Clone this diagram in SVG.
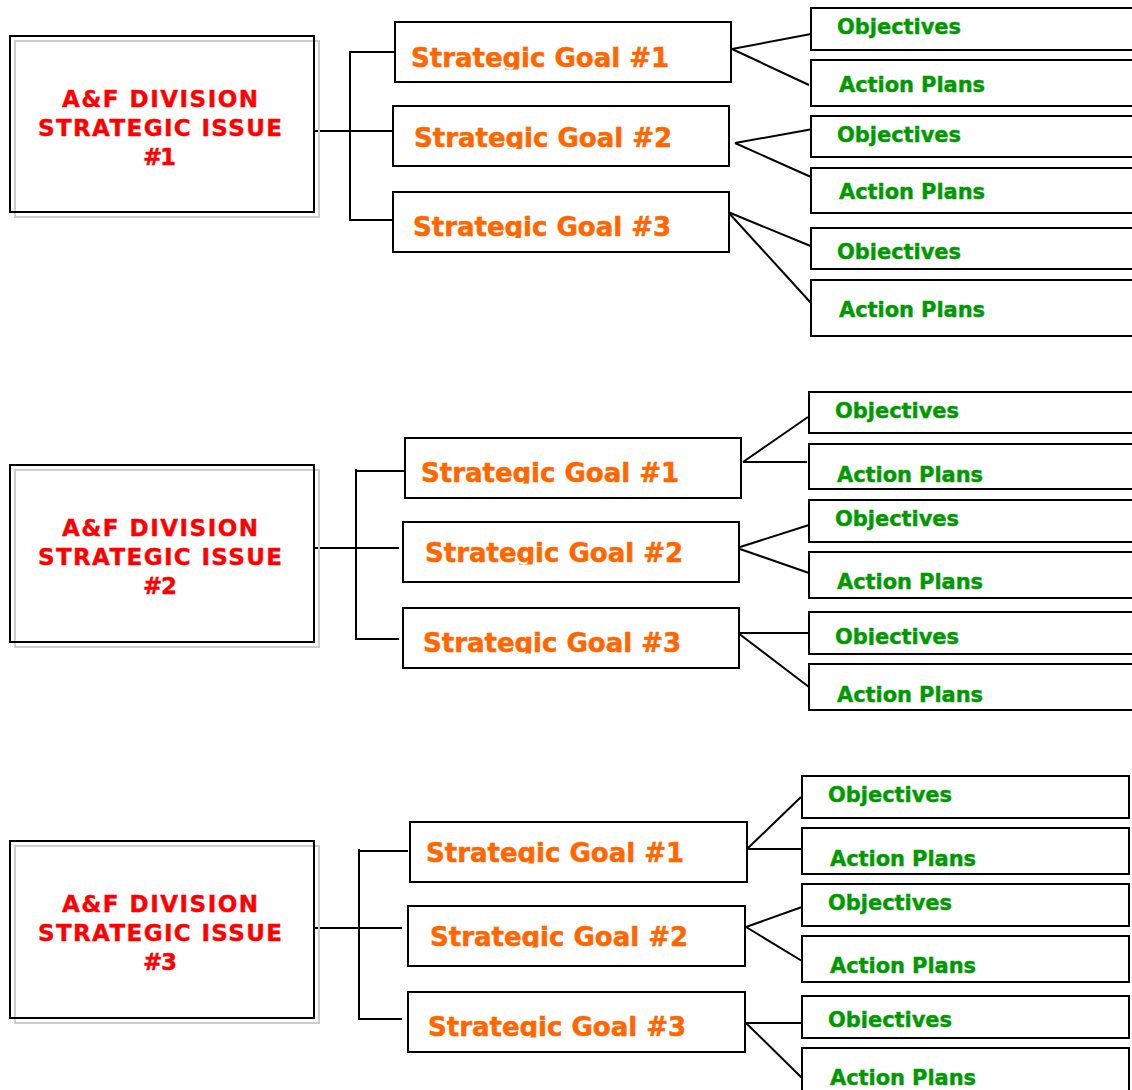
<svg xmlns="http://www.w3.org/2000/svg" width="1132" height="1090" viewBox="0 0 1132 1090">
<style>
.box{fill:#fff;stroke:#000;stroke-width:2}
.shadow{fill:none;stroke:#cccccc;stroke-width:2}
.issue{font-family:"DejaVu Sans",Verdana,sans-serif;font-weight:bold;font-size:23px;fill:#ff0000;stroke:#ff0000;stroke-width:0.4}
.goal{font-family:"DejaVu Sans",Verdana,sans-serif;font-weight:bold;font-size:26px;fill:#ff6600;stroke:#ff6600;stroke-width:0.5}
.sub{font-family:"DejaVu Sans",Verdana,sans-serif;font-weight:bold;font-size:21px;fill:#009900;stroke:#009900;stroke-width:0.4}
.conn line{stroke:#000;stroke-width:2;fill:none}
</style>
<defs>
<clipPath id="c11"><rect x="395" y="22" width="337" height="47.5"/></clipPath>
<clipPath id="c12"><rect x="393" y="106" width="337" height="43"/></clipPath>
<clipPath id="c13"><rect x="393" y="192" width="337" height="46"/></clipPath>
<clipPath id="c21"><rect x="405" y="438" width="337" height="45.5"/></clipPath>
<clipPath id="c22"><rect x="403" y="522" width="337" height="42.5"/></clipPath>
<clipPath id="c23"><rect x="403" y="608" width="337" height="45.5"/></clipPath>
<clipPath id="c31"><rect x="410" y="822" width="337" height="41.5"/></clipPath>
<clipPath id="c32"><rect x="408" y="906" width="337" height="41.5"/></clipPath>
<clipPath id="c33"><rect x="408" y="992" width="337" height="45.5"/></clipPath>
<clipPath id="o13"><rect x="811" y="228" width="330" height="32"/></clipPath>
<clipPath id="o23"><rect x="809" y="612" width="330" height="33"/></clipPath>
<clipPath id="o33"><rect x="802" y="996" width="330" height="32"/></clipPath>
</defs>

<g id="connectors" class="conn">
<line x1="314" y1="131" x2="395" y2="131"/>
<line x1="350" y1="51" x2="350" y2="221"/>
<line x1="350" y1="52" x2="397" y2="52"/>
<line x1="349" y1="220" x2="393" y2="220"/>
<line x1="732" y1="49" x2="811" y2="34"/>
<line x1="732" y1="49" x2="809" y2="85"/>
<line x1="735" y1="143" x2="813" y2="129"/>
<line x1="735" y1="143" x2="811" y2="177"/>
<line x1="728" y1="212" x2="813" y2="247"/>
<line x1="728" y1="212" x2="811" y2="303"/>

<line x1="313" y1="548" x2="399" y2="548"/>
<line x1="356" y1="469" x2="356" y2="640"/>
<line x1="356" y1="471" x2="405" y2="471"/>
<line x1="355" y1="639" x2="399" y2="639"/>
<line x1="743" y1="462" x2="808" y2="417"/>
<line x1="743" y1="462" x2="807" y2="462"/>
<line x1="737" y1="548" x2="809" y2="525"/>
<line x1="737" y1="548" x2="809" y2="573"/>
<line x1="738" y1="633" x2="811" y2="633"/>
<line x1="738" y1="633" x2="809" y2="687"/>

<line x1="314" y1="928" x2="402" y2="928"/>
<line x1="359" y1="849" x2="359" y2="1020"/>
<line x1="359" y1="851" x2="408" y2="851"/>
<line x1="358" y1="1019" x2="402" y2="1019"/>
<line x1="747" y1="849" x2="801" y2="797"/>
<line x1="747" y1="849" x2="802" y2="849"/>
<line x1="746" y1="927" x2="802" y2="907"/>
<line x1="746" y1="927" x2="802" y2="961"/>
<line x1="746" y1="1023" x2="802" y2="1023"/>
<line x1="746" y1="1023" x2="802" y2="1078"/>
</g>

<g id="issue1">
<rect class="shadow" x="15" y="41" width="304" height="176"/>
<rect class="box" x="10" y="36" width="304" height="176" fill-opacity="0"/>
<text class="issue" x="62" y="107" textLength="196" lengthAdjust="spacing">A&amp;F DIVISION</text>
<text class="issue" x="38" y="136" textLength="244" lengthAdjust="spacing">STRATEGIC ISSUE</text>
<text class="issue" x="143" y="165" textLength="33" lengthAdjust="spacing">#1</text>
</g>
<g id="issue2">
<rect class="shadow" x="15" y="470" width="304" height="177"/>
<rect class="box" x="10" y="465" width="304" height="177" fill-opacity="0"/>
<text class="issue" x="62" y="536" textLength="196" lengthAdjust="spacing">A&amp;F DIVISION</text>
<text class="issue" x="38" y="565" textLength="244" lengthAdjust="spacing">STRATEGIC ISSUE</text>
<text class="issue" x="143" y="594" textLength="34" lengthAdjust="spacing">#2</text>
</g>
<g id="issue3">
<rect class="shadow" x="15" y="846" width="304" height="177"/>
<rect class="box" x="10" y="841" width="304" height="177" fill-opacity="0"/>
<text class="issue" x="62" y="912" textLength="196" lengthAdjust="spacing">A&amp;F DIVISION</text>
<text class="issue" x="38" y="941" textLength="244" lengthAdjust="spacing">STRATEGIC ISSUE</text>
<text class="issue" x="143" y="970" textLength="34" lengthAdjust="spacing">#3</text>
</g>

<g id="goal1-1"><rect class="box" x="395" y="22" width="336" height="60"/><text class="goal" x="411" y="67" textLength="258" lengthAdjust="spacing" clip-path="url(#c11)">Strategic Goal #1</text></g>
<g id="goal1-2"><rect class="box" x="393" y="106" width="336" height="60"/><text class="goal" x="414" y="147" textLength="258" lengthAdjust="spacing" clip-path="url(#c12)">Strategic Goal #2</text></g>
<g id="goal1-3"><rect class="box" x="393" y="192" width="336" height="60"/><text class="goal" x="413" y="236" textLength="258" lengthAdjust="spacing" clip-path="url(#c13)">Strategic Goal #3</text></g>

<g id="goal2-1"><rect class="box" x="405" y="438" width="336" height="60"/><text class="goal" x="421" y="482" textLength="258" lengthAdjust="spacing" clip-path="url(#c21)">Strategic Goal #1</text></g>
<g id="goal2-2"><rect class="box" x="403" y="522" width="336" height="60"/><text class="goal" x="425" y="562" textLength="258" lengthAdjust="spacing" clip-path="url(#c22)">Strategic Goal #2</text></g>
<g id="goal2-3"><rect class="box" x="403" y="608" width="336" height="60"/><text class="goal" x="423" y="652" textLength="258" lengthAdjust="spacing" clip-path="url(#c23)">Strategic Goal #3</text></g>

<g id="goal3-1"><rect class="box" x="410" y="822" width="337" height="60"/><text class="goal" x="426" y="862" textLength="258" lengthAdjust="spacing" clip-path="url(#c31)">Strategic Goal #1</text></g>
<g id="goal3-2"><rect class="box" x="408" y="906" width="337" height="60"/><text class="goal" x="430" y="946" textLength="258" lengthAdjust="spacing" clip-path="url(#c32)">Strategic Goal #2</text></g>
<g id="goal3-3"><rect class="box" x="408" y="992" width="337" height="60"/><text class="goal" x="428" y="1036" textLength="258" lengthAdjust="spacing" clip-path="url(#c33)">Strategic Goal #3</text></g>

<g id="obj1-1"><rect class="box" x="811" y="8" width="330" height="42"/><text class="sub" x="837" y="34" textLength="124" lengthAdjust="spacing">Objectives</text></g>
<g id="ap1-1"><rect class="box" x="811" y="60" width="330" height="46"/><text class="sub" x="839" y="92" textLength="146" lengthAdjust="spacing">Action Plans</text></g>
<g id="obj1-2"><rect class="box" x="811" y="116" width="330" height="41"/><text class="sub" x="837" y="142" textLength="124" lengthAdjust="spacing">Objectives</text></g>
<g id="ap1-2"><rect class="box" x="811" y="168" width="330" height="45"/><text class="sub" x="839" y="199" textLength="146" lengthAdjust="spacing">Action Plans</text></g>
<g id="obj1-3"><rect class="box" x="811" y="228" width="330" height="41"/><text class="sub" x="837" y="259" textLength="124" lengthAdjust="spacing" clip-path="url(#o13)">Objectives</text></g>
<g id="ap1-3"><rect class="box" x="811" y="280" width="330" height="56"/><text class="sub" x="839" y="317" textLength="146" lengthAdjust="spacing">Action Plans</text></g>

<g id="obj2-1"><rect class="box" x="809" y="392" width="330" height="41"/><text class="sub" x="835" y="418" textLength="124" lengthAdjust="spacing">Objectives</text></g>
<g id="ap2-1"><rect class="box" x="809" y="444" width="330" height="45"/><text class="sub" x="837" y="482" textLength="146" lengthAdjust="spacing">Action Plans</text></g>
<g id="obj2-2"><rect class="box" x="809" y="500" width="330" height="42"/><text class="sub" x="835" y="526" textLength="124" lengthAdjust="spacing">Objectives</text></g>
<g id="ap2-2"><rect class="box" x="809" y="552" width="330" height="46"/><text class="sub" x="837" y="589" textLength="146" lengthAdjust="spacing">Action Plans</text></g>
<g id="obj2-3"><rect class="box" x="809" y="612" width="330" height="42"/><text class="sub" x="835" y="644" textLength="124" lengthAdjust="spacing" clip-path="url(#o23)">Objectives</text></g>
<g id="ap2-3"><rect class="box" x="809" y="664" width="330" height="46"/><text class="sub" x="837" y="702" textLength="146" lengthAdjust="spacing">Action Plans</text></g>

<g id="obj3-1"><rect class="box" x="802" y="776" width="327" height="42"/><text class="sub" x="828" y="802" textLength="124" lengthAdjust="spacing">Objectives</text></g>
<g id="ap3-1"><rect class="box" x="802" y="828" width="327" height="46"/><text class="sub" x="830" y="866" textLength="146" lengthAdjust="spacing">Action Plans</text></g>
<g id="obj3-2"><rect class="box" x="802" y="884" width="327" height="42"/><text class="sub" x="828" y="910" textLength="124" lengthAdjust="spacing">Objectives</text></g>
<g id="ap3-2"><rect class="box" x="802" y="936" width="327" height="46"/><text class="sub" x="830" y="973" textLength="146" lengthAdjust="spacing">Action Plans</text></g>
<g id="obj3-3"><rect class="box" x="802" y="996" width="327" height="42"/><text class="sub" x="828" y="1027" textLength="124" lengthAdjust="spacing" clip-path="url(#o33)">Objectives</text></g>
<g id="ap3-3"><rect class="box" x="802" y="1048" width="327" height="60"/><text class="sub" x="830" y="1085" textLength="146" lengthAdjust="spacing">Action Plans</text></g>
</svg>
